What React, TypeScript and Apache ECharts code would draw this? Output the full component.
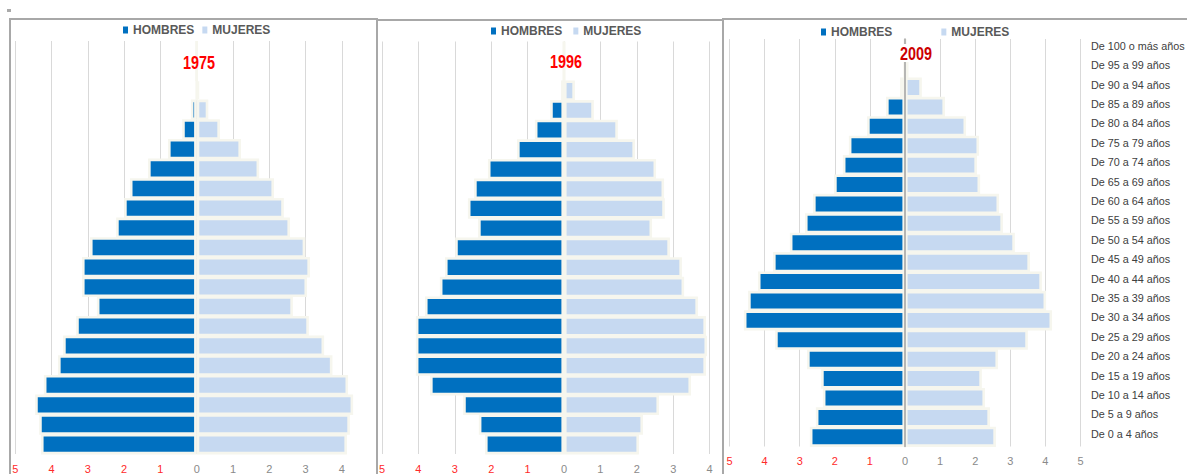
import React, { useEffect, useRef } from 'react';
import * as echarts from 'echarts';

// Age groups, bottom (youngest) to top (oldest)
const categories = [
  'De 0 a 4 años', 'De 5 a 9 años', 'De 10 a 14 años', 'De 15 a 19 años',
  'De 20 a 24 años', 'De 25 a 29 años', 'De 30 a 34 años', 'De 35 a 39 años',
  'De 40 a 44 años', 'De 45 a 49 años', 'De 50 a 54 años', 'De 55 a 59 años',
  'De 60 a 64 años', 'De 65 a 69 años', 'De 70 a 74 años', 'De 75 a 79 años',
  'De 80 a 84 años', 'De 85 a 89 años', 'De 90 a 94 años', 'De 95 a 99 años',
  'De 100 o más años',
];

const years = ['1975', '1996', '2009'];
const seriesNames = ['HOMBRES', 'MUJERES'];
const tickValues = [-5, -4, -3, -2, -1, 0, 1, 2, 3, 4, 5];

const hombres1975 = [4.29, 4.34, 4.45, 4.21, 3.82, 3.68, 3.32, 2.75, 3.16, 3.16, 2.94, 2.22, 2.0, 1.84, 1.34, 0.79, 0.4, 0.16, 0, 0, 0];
const mujeres1975 = [4.14, 4.22, 4.31, 4.17, 3.74, 3.51, 3.09, 2.65, 3.04, 3.12, 2.99, 2.57, 2.4, 2.13, 1.72, 1.22, 0.64, 0.32, 0.07, 0, 0];

const hombres1996 = [2.17, 2.34, 2.77, 3.68, 4.07, 4.07, 4.07, 3.82, 3.41, 3.27, 2.99, 2.36, 2.64, 2.47, 2.09, 1.29, 0.8, 0.38, 0.08, 0, 0];
const mujeres1996 = [2.06, 2.17, 2.61, 3.49, 3.9, 3.93, 3.9, 3.68, 3.3, 3.24, 2.91, 2.42, 2.77, 2.75, 2.53, 1.95, 1.48, 0.82, 0.3, 0, 0];

const hombres2009 = [2.71, 2.54, 2.34, 2.39, 2.79, 3.7, 4.59, 4.47, 4.19, 3.76, 3.28, 2.85, 2.62, 2.02, 1.77, 1.6, 1.08, 0.54, 0.14, 0.02, 0];
const mujeres2009 = [2.59, 2.42, 2.28, 2.19, 2.65, 3.5, 4.19, 4.02, 3.9, 3.56, 3.13, 2.79, 2.68, 2.14, 2.05, 2.11, 1.74, 1.14, 0.48, 0.1, 0.01];

const menData = [hombres1975, hombres1996, hombres2009];
const womenData = [mujeres1975, mujeres1996, mujeres2009];

const DARK = '#0070C0';
const LIGHT = '#C6D9F1';
const CREAM = '#F6F6EE';
const NARROW = '"Liberation Sans Narrow", "Arial Narrow", "Liberation Sans", Arial, sans-serif';
const SANS = '"Liberation Sans", Arial, sans-serif';

const layout = [
  { grid: { left: 15.2, top: 41, width: 363, height: 413 }, legendLeft: 118, legendTop: 19, itemGap: 8, title: { x: 199, y: 62, color: '#ff0000' }, hideMax: true, labelMargin: 9 },
  { grid: { left: 382, top: 41.5, width: 364, height: 412.5 }, legendLeft: 486, legendTop: 20, itemGap: 11, title: { x: 566, y: 61, color: '#ff0000' }, hideMax: true, labelMargin: 9 },
  { grid: { left: 729.5, top: 39, width: 351, height: 407.5 }, legendLeft: 816, legendTop: 21, itemGap: 49, title: { x: 916, y: 53, color: '#cc0000' }, hideMax: false, labelMargin: 9 },
];

export default function App() {
  const ref = useRef<HTMLDivElement>(null);

  useEffect(() => {
    if (!ref.current) return;
    const chart = echarts.init(ref.current, null, { renderer: 'svg' });

    const xAxes = layout.map((l, i) => ({
      type: 'value',
      gridIndex: i,
      min: tickValues[0],
      max: tickValues[tickValues.length - 1],
      interval: 1,
      axisLine: { show: false },
      axisTick: { show: false },
      splitLine: { show: true, showMaxLine: !l.hideMax, lineStyle: { color: '#d9d9d9', width: 1 } },
      axisLabel: {
        showMaxLabel: !l.hideMax,
        margin: l.labelMargin,
        fontSize: 11,
        fontFamily: NARROW,
        formatter: (v: number) => String(Math.abs(v)),
        color: (v: any) => (Number(v) < 0 ? '#ff2a2a' : '#8a8a8a'),
      },
    }));

    const yAxes: any[] = layout.map((l, i) => ({
      type: 'category',
      gridIndex: i,
      data: categories,
      position: i === 2 ? 'right' : 'left',
      axisLine: { show: false, onZero: false },
      axisTick: { show: false },
      splitLine: { show: false },
      axisLabel: {
        show: i === 2,
        margin: 10.5,
        fontSize: 10.8,
        fontFamily: NARROW,
        color: '#404040',
        verticalAlign: 'bottom',
        lineHeight: 6,
      },
    }));
    // zero line for the last pyramid
    yAxes.push({
      type: 'category',
      gridIndex: 2,
      data: categories,
      z: 10,
      axisLine: { show: true, onZero: true, lineStyle: { color: '#a0a0a0', width: 1.5 } },
      axisTick: { show: false },
      axisLabel: { show: false },
      splitLine: { show: false },
    });

    const series: any[] = [];
    layout.forEach((l, i) => {
      series.push({
        type: 'bar',
        name: seriesNames[0],
        xAxisIndex: i,
        yAxisIndex: i,
        stack: 'pyr' + i,
        barWidth: '104%',
        data: menData[i].map((v) => -v),
        itemStyle: { color: DARK, borderColor: CREAM, borderWidth: 2.6 },
        emphasis: { disabled: true },
      });
      series.push({
        type: 'bar',
        name: seriesNames[1],
        xAxisIndex: i,
        yAxisIndex: i,
        stack: 'pyr' + i,
        barWidth: '104%',
        data: womenData[i],
        itemStyle: { color: LIGHT, borderColor: CREAM, borderWidth: 2.6 },
        emphasis: { disabled: true },
      });
    });

    const legends = layout.map((l) => ({
      left: l.legendLeft,
      top: l.legendTop,
      orient: 'horizontal',
      itemGap: l.itemGap,
      itemWidth: 5,
      itemHeight: 7,
      icon: 'rect',
      selectedMode: false,
      data: seriesNames,
      itemStyle: { borderWidth: 0 },
      textStyle: { fontSize: 12, fontWeight: 'bold', color: '#595959', fontFamily: SANS },
    }));

    const graphics: any[] = [
      { type: 'rect', shape: { x: 7, y: 9, width: 4, height: 3 }, style: { fill: '#aaaaaa' } },
      { type: 'rect', shape: { x: 10, y: 19, width: 367, height: 520 }, style: { fill: 'none', stroke: '#a8a8a8', lineWidth: 2 }, z: 50 },
      { type: 'rect', shape: { x: 377, y: 20, width: 346, height: 520 }, style: { fill: 'none', stroke: '#a8a8a8', lineWidth: 2 }, z: 50 },
      { type: 'rect', shape: { x: 723, y: 19, width: 520, height: 520 }, style: { fill: 'none', stroke: '#a8a8a8', lineWidth: 2 }, z: 50 },
    ];
    layout.forEach((l, i) => {
      graphics.push({
        type: 'text',
        x: l.title.x,
        y: l.title.y,
        scaleX: 0.8,
        z: 100,
        style: {
          text: years[i],
          fill: l.title.color,
          font: 'bold 18px ' + NARROW,
          align: 'center',
          verticalAlign: 'middle',
          backgroundColor: i === 2 ? '#ffffff' : undefined,
        },
      });
    });

    chart.setOption({
      animation: false,
      backgroundColor: '#ffffff',
      grid: layout.map((l) => ({ ...l.grid, containLabel: false, outerBoundsMode: 'none' })),
      xAxis: xAxes,
      yAxis: yAxes,
      legend: legends,
      series,
      graphic: graphics,
    });

    return () => chart.dispose();
  }, []);

  return (
    <div
      ref={ref}
      style={{ position: 'fixed', left: 0, top: 0, width: 1187, height: 474, background: '#fff' }}
    />
  );
}
